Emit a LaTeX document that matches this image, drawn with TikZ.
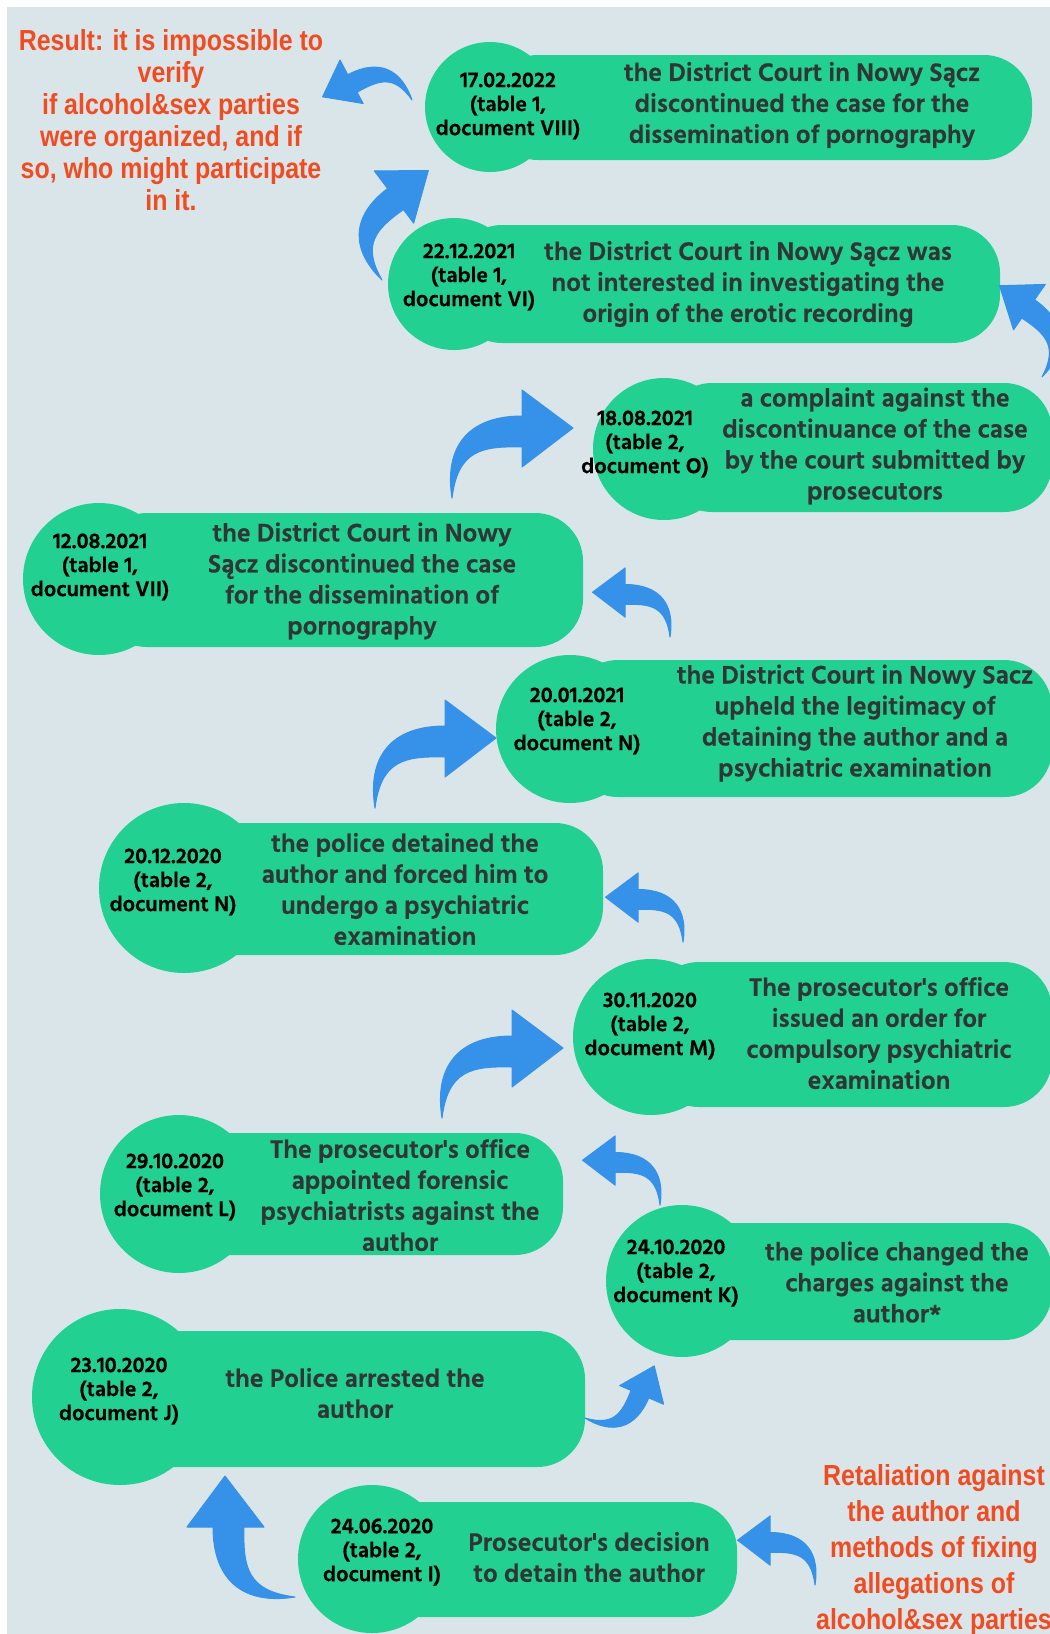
\documentclass[tikz,border=0pt]{standalone}
\usepackage{fontspec}
\newfontfamily\hindfont[BoldFeatures={FakeBold=0.5}]{Hind Siliguri}
\newfontfamily\condfont[FakeStretch=0.86]{Liberation Sans}
\definecolor{bgblue}{RGB}{217,229,233}
\definecolor{boxgreen}{RGB}{34,209,146}
\definecolor{arrowblue}{RGB}{53,146,232}
\definecolor{notered}{RGB}{240,76,34}
\definecolor{textgray}{RGB}{48,54,54}

\begin{document}
\begin{tikzpicture}[x=1pt, y=-1pt,
  blob/.style={fill=boxgreen},
  datetext/.style={align=center, font=\hindfont\bfseries\fontsize{22}{24}\selectfont, text=black},
  eventtext/.style={align=center, font=\hindfont\bfseries\fontsize{26}{31}\selectfont, text=textgray},
  notetext/.style={align=center, font=\condfont\bfseries\fontsize{29}{#1}\selectfont, text=notered},
  swoosh/.pic={\filldraw[arrowblue, line join=round, line width=1pt] (0,0) .. controls (-8,-50) and (15,-82) .. (70,-82) -- (70,-108) -- (121,-70) -- (70,-31) -- (70,-51) .. controls (30,-52) and (6,-48) .. (0,0) -- cycle;}]
\useasboundingbox (0,0) rectangle (1050,1634);
\clip (0,0) rectangle (1050,1634);
\fill[white] (0,0) rectangle (1050,1634);
\fill[bgblue] (7,7) rectangle (1050,1634);

% the boxes
\fill[blob] (490,107) circle[radius=65];
\fill[blob, rounded corners=48] (490,55) rectangle (1032,160);
\fill[blob] (454,284) circle[radius=66];
\fill[blob, rounded corners=48] (454,225) rectangle (1000,343);
\fill[blob] (664,449) circle[radius=71];
\fill[blob, rounded corners=48] (664,383) rectangle (1052,512);
\fill[blob] (99,579) circle[radius=76];
\fill[blob, rounded corners=48] (99,513) rectangle (583,647);
\fill[blob] (570,729) circle[radius=74];
\fill[blob, rounded corners=48] (570,660) rectangle (1052,797);
\fill[blob] (184,888) circle[radius=85];
\fill[blob, rounded corners=48] (184,823) rectangle (603,955);
\fill[blob] (651,1037) circle[radius=78];
\fill[blob, rounded corners=48] (651,962) rectangle (1052,1107);
\fill[blob] (179,1194) circle[radius=79];
\fill[blob, rounded corners=48] (179,1133) rectangle (563,1255);
\fill[blob] (682,1281) circle[radius=76];
\fill[blob, rounded corners=48] (682,1223) rectangle (1052,1340);
\fill[blob] (120,1397) circle[radius=88];
\fill[blob, rounded corners=48] (120,1331) rectangle (585,1467);
\fill[blob] (372,1559) circle[radius=74];
\fill[blob, rounded corners=48] (372,1502) rectangle (737,1617);

% dates and events
\node[datetext] (d1) at (508,106) {17.02.2022\\(table 1,\\document VIII)};
\node[eventtext] (e1) at (802,105) {the District Court in Nowy Sącz\\discontinued the case for the\\dissemination of pornography};
\node[datetext] (d2) at (469,277) {22.12.2021\\(table 1,\\document VI)};
\node[eventtext] (e2) at (748,284) {the District Court in Nowy Sącz was\\not interested in investigating the\\origin of the erotic recording};
\node[datetext] (d3) at (645,444) {18.08.2021\\(table 2,\\document O)};
\node[eventtext] (e3) at (875,446) {a complaint against the\\discontinuance of the case\\by the court submitted by\\prosecutors};
\node[datetext] (d4) at (100,567) {12.08.2021\\(table 1,\\document VII)};
\node[eventtext] (e4) at (362,581) {the District Court in Nowy\\Sącz discontinued the case\\for the dissemination of\\pornography};
\node[datetext] (d5) at (577,721) {20.01.2021\\(table 2,\\document N)};
\node[eventtext] (e5) at (855,723) {the District Court in Nowy Sacz\\upheld the legitimacy of\\detaining the author and a\\psychiatric examination};
\node[datetext] (d6) at (173,882) {20.12.2020\\(table 2,\\document N)};
\node[eventtext] (e6) at (405,889) {the police detained the\\author and forced him to\\undergo a psychiatric\\examination};
\node[datetext] (d7) at (650,1026) {30.11.2020\\(table 2,\\document M)};
\node[eventtext] (e7) at (879,1033) {The prosecutor's office\\issued an order for\\compulsory psychiatric\\examination};
\node[datetext] (d8) at (175,1187) {29.10.2020\\(table 2,\\document L)};
\node[eventtext] (e8) at (400,1195) {The prosecutor's office\\appointed forensic\\psychiatrists against the\\author};
\node[datetext] (d9) at (676,1273) {24.10.2020\\(table 2,\\document K)};
\node[eventtext] (e9) at (897,1282) {the police changed the\\charges against the\\author*};
\node[datetext] (d10) at (119,1391) {23.10.2020\\(table 2,\\document J)};
\node[eventtext] (e10) at (355,1393) {the Police arrested the\\author};
\node[datetext] (d11) at (382,1552) {24.06.2020\\(table 2,\\document I)};
\node[eventtext] (e11) at (589,1557) {Prosecutor's decision\\to detain the author};

\node[notetext=32] (result) at (171,120) {Result: it is impossible to\\verify\\if alcohol\&sex parties\\were organized, and if\\so, who might participate\\in it.};
\node[notetext=36] (retaliation) at (934,1550) {Retaliation against\\the author and\\methods of fixing\\allegations of\\alcohol\&sex parties};

% arrows
\pic[rotate=28, xscale=-1, scale=0.64] at (412,100) {swoosh};
\pic[rotate=37, scale=0.85] at (382,280) {swoosh};
\pic[rotate=-35, xscale=-1, scale=0.72] at (1042,377) {swoosh};
\pic at (452,498) {swoosh};
\pic[xscale=-1, scale=0.64] at (670,637) {swoosh};
\pic at (375,808) {swoosh};
\pic[xscale=-1, scale=0.64] at (683,942) {swoosh};
\pic at (442,1118) {swoosh};
\pic[xscale=-1, scale=0.64] at (660,1205) {swoosh};
\pic[rotate=-113, xscale=-1, scale=0.62] at (585,1418) {swoosh};
\pic[rotate=90] at (295,1597) {swoosh};
\pic[xscale=-1, scale=0.64] at (815,1585) {swoosh};
\end{tikzpicture}
\end{document}
